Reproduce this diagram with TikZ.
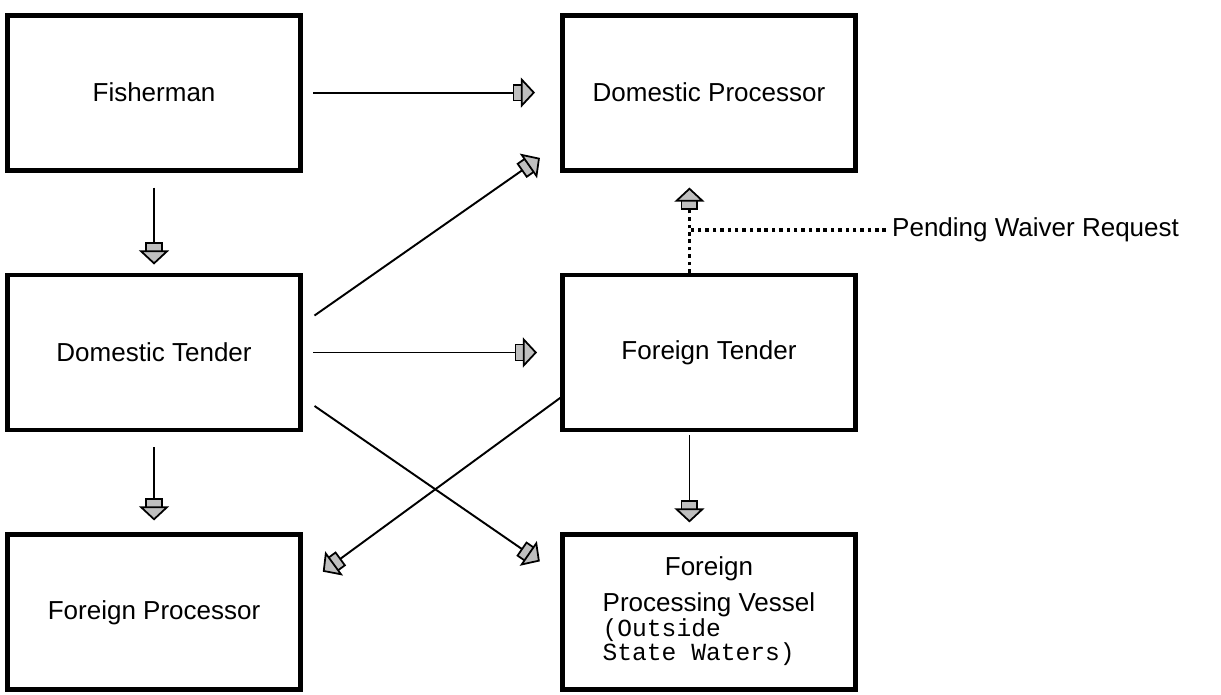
\documentclass[tikz,border=0pt]{standalone}
\usepackage{fontspec}
\setmainfont{Liberation Sans}
\setmonofont{Liberation Mono}
\usetikzlibrary{arrows.meta,matrix}

\begin{document}
\begin{tikzpicture}
   \tikzstyle{box}=[draw,line width=2.8pt,minimum width=5.86cm,minimum height=3.1cm,font=\fontsize{14.8}{17}\selectfont]
   \tikzstyle{flow}=[line width=1.1pt,-{Rectangle[length=6pt,width=10pt,fill=gray!50,line width=1pt,sep=-1.2pt]Triangle[length=8pt,width=17pt,fill=gray!50,line width=1pt]}]
   \tikzstyle{waiv}=[line width=1.8pt,dash pattern=on 2pt off 2.2pt]

   \useasboundingbox (0,0) rectangle (24.42,13.88) ;
   \matrix (chart) at (8.63,6.83) [row sep=2cm,column sep=5.14cm] {
      \node (fish) [box] {Fisherman} ; &
      \node (dproc) [box] {Domestic Processor} ; \\
      \node (dtend) [box] {Domestic Tender} ; &
      \node (ftend) [box] {Foreign Tender} ; \\
      \node (fproc) [box] {Foreign Processor} ; &
      \node (fvessel) [box] {\begin{tabular}{@{}l@{}}
         \multicolumn{1}{@{}c@{}}{Foreign}\\[3pt]
         Processing Vessel\\[-2.5pt]
         {\ttfamily\fontsize{14}{14}\selectfont (Outside}\\[-3.2pt]
         {\ttfamily\fontsize{14}{14}\selectfont State Waters)}
      \end{tabular}} ; \\
   } ;
   \node (waiver) [anchor=west,font=\fontsize{14.8}{17}\selectfont] at (17.72,9.28) {Pending Waiver Request} ;
   \path (ftend.north |- waiver.west) ++(-0.39,0) coordinate (jn) ;

   \draw [flow,shorten <=0.2cm,shorten >=0.5cm] (fish) -- (dproc) ;
   \draw [flow,shorten <=0.3cm,shorten >=0.16cm] (fish) -- (dtend) ;
   \draw [flow,shorten <=0.28cm,shorten >=0.49cm] (dtend.11) -- (dproc.199) ;
   \draw [flow,shorten <=0.2cm,shorten >=0.46cm] (dtend) -- (ftend) ;
   \draw [flow,shorten <=0.28cm,shorten >=0.49cm] (dtend.-17) -- (fvessel.166) ;
   \draw [flow,shorten <=0.3cm,shorten >=0.24cm] (dtend) -- (fproc) ;
   \draw [flow,shorten <=-0.1cm,shorten >=0.49cm] (ftend.197) -- (fproc.10) ;
   \draw [flow,shorten <=0.05cm,shorten >=0.2cm] (jn |- ftend.south) -- (jn |- fvessel.north) ;
   \draw [waiv] (waiver.west) -- (jn) ;
   \draw [flow,waiv,shorten >=0.3cm] (jn |- ftend.north) -- (jn |- dproc.south) ;
\end{tikzpicture}
\end{document}
